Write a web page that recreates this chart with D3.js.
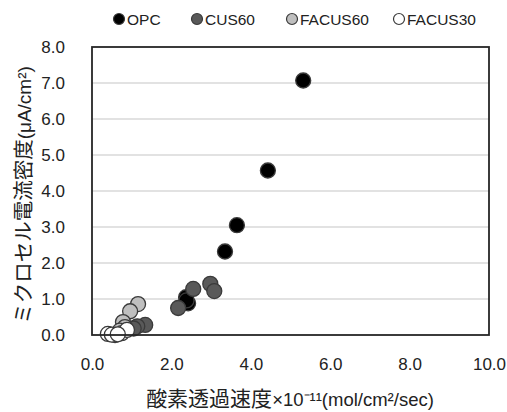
<!DOCTYPE html>
<html>
<head>
<meta charset="utf-8">
<script src="https://cdn.jsdelivr.net/npm/d3@7"></script>
<style>
  body { margin: 0; background: #fff; }
  text { font-family: "Liberation Sans", Arial, sans-serif; }
  .cjk { font-family: "Noto Sans CJK JP", sans-serif; }
</style>
</head>
<body>
<div id="chart"></div>
<script>
// series data: [oxygen permeation x1e-11, microcell current density]
const seriesNames = ["OPC", "CUS60", "FACUS60", "FACUS30"];
const opc = [[5.32, 7.07], [4.43, 4.57], [3.65, 3.05], [3.35, 2.32], [2.37, 1.05], [2.42, 0.88], [2.38, 0.96]];
const cus60 = [[2.55, 1.28], [2.17, 0.75], [2.98, 1.42], [3.08, 1.22], [1.34, 0.28], [1.14, 0.24], [1.05, 0.18]];
const facus60 = [[1.16, 0.86], [0.96, 0.66], [0.78, 0.36], [0.83, 0.22], [0.7, 0.12]];
const facus30 = [[0.4, 0.03], [0.58, 0.0], [0.75, 0.05], [0.88, 0.14], [0.5, 0.01], [0.65, 0.02]];
const xTicks = [0, 2, 4, 6, 8, 10];
const yTicks = [0, 1, 2, 3, 4, 5, 6, 7, 8];

const width = 507, height = 412;
const margin = { top: 47, right: 18, bottom: 77, left: 92 };
const fills = ["#000000", "#595959", "#bfbfbf", "#ffffff"];
const allSeries = [opc, cus60, facus60, facus30];

const svg = d3.select("#chart").append("svg")
  .attr("width", width)
  .attr("height", height);

const x = d3.scaleLinear().domain([0, 10]).range([margin.left, width - margin.right]);
const y = d3.scaleLinear().domain([0, 8]).range([height - margin.bottom, margin.top]);

//gridlines
svg.append("g")
  .selectAll("line")
  .data(yTicks.slice(1, -1))
  .join("line")
  .attr("x1", x(0)).attr("x2", x(10))
  .attr("y1", d => y(d)).attr("y2", d => y(d))
  .attr("stroke", "#d9d9d9")
  .attr("stroke-width", 1.5);

//y axis tick labels
const yAxis = d3.axisLeft(y).tickValues(yTicks).tickFormat(d3.format(".1f")).tickSize(0).tickPadding(27);
svg.append("g")
  .attr("transform", `translate(${x(0)},0)`)
  .call(yAxis)
  .call(g => g.select(".domain").remove())
  .selectAll("text")
  .attr("font-size", 17)
  .attr("fill", "#222");

//x axis tick labels
const xAxis = d3.axisBottom(x).tickValues(xTicks).tickFormat(d3.format(".1f")).tickSize(0).tickPadding(23);
svg.append("g")
  .attr("transform", `translate(0,${y(0)})`)
  .call(xAxis)
  .call(g => g.select(".domain").remove())
  .selectAll("text")
  .attr("font-size", 17)
  .attr("fill", "#222");

//points
allSeries.forEach((s, i) => {
  svg.append("g")
    .selectAll("circle")
    .data(s)
    .join("circle")
    .attr("cx", d => x(d[0]))
    .attr("cy", d => y(d[1]))
    .attr("r", 7.5)
    .attr("fill", fills[i])
    .attr("stroke", "#3a3a3a")
    .attr("stroke-width", 1.3);
});

//plot frame
svg.append("rect")
  .attr("x", x(0)).attr("y", y(8))
  .attr("width", x(10) - x(0))
  .attr("height", y(0) - y(8))
  .attr("fill", "none")
  .attr("stroke", "#262626")
  .attr("stroke-width", 1.8);

//legend
const legendX = [119, 197, 292, 399];
const legend = svg.append("g");
seriesNames.forEach((name, i) => {
  legend.append("circle")
    .attr("cx", legendX[i]).attr("cy", 19)
    .attr("r", 5.5)
    .attr("fill", fills[i])
    .attr("stroke", "#3a3a3a")
    .attr("stroke-width", 1.2);
  legend.append("text")
    .attr("x", legendX[i] + 8).attr("y", 25)
    .attr("font-size", 15.5)
    .attr("fill", "#222")
    .text(name);
});

//y axis label
const yl = svg.append("text")
  .attr("transform", `translate(31, 195) rotate(-90)`)
  .attr("text-anchor", "middle")
  .attr("font-size", 19)
  .attr("fill", "#222");
yl.append("tspan").attr("class", "cjk").attr("font-size", 20.5).text("ミクロセル電流密度");
yl.append("tspan").text("(μA/cm²)");

//x axis label
const xl = svg.append("text")
  .attr("x", 290)
  .attr("y", 406)
  .attr("text-anchor", "middle")
  .attr("font-size", 18.5)
  .attr("fill", "#222");
xl.append("tspan").attr("class", "cjk").attr("font-size", 21).text("酸素透過速度");
xl.append("tspan").text("×10⁻¹¹(mol/cm²/sec)");
</script>
</body>
</html>
